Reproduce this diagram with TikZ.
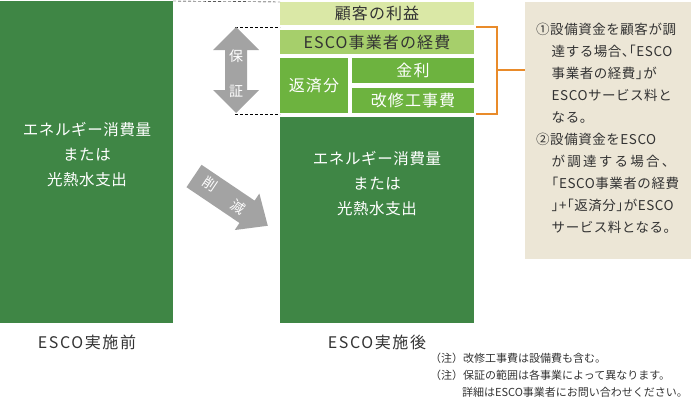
\documentclass[tikz,border=0pt]{standalone}
\usepackage{fontspec}
\setmainfont{Noto Sans CJK JP}
\newfontfamily\spaced[LetterSpace=7]{Noto Sans CJK JP}
\newfontfamily\widespaced[LetterSpace=10]{Noto Sans CJK JP}
\newfontfamily\notefont[LetterSpace=4,RawFeature=+halt]{Noto Sans CJK JP}
\usetikzlibrary{positioning}
\definecolor{moerkgroen}{HTML}{3F8645}
\definecolor{lysgroen}{HTML}{DAE8A6}
\definecolor{mellemgroen}{HTML}{A6CF6B}
\definecolor{klargroen}{HTML}{6DB33F}
\definecolor{pilgraa}{HTML}{A3A3A3}
\definecolor{klammefarve}{HTML}{E98B2A}
\definecolor{beige}{HTML}{ECE6D6}
\definecolor{moerktekst}{HTML}{333333}
\tikzset{
    %Define style for the big bars
    bar/.style={
           rectangle,
           fill=moerkgroen,
           inner sep=0pt,
           outer sep=0pt,
           anchor=north west},
    %Define style for the boxes on top
    felt/.style={
           rectangle,
           fill=klargroen,
           text=white,
           inner sep=0pt,
           outer sep=0pt,
           anchor=north west,
           font=\spaced\fontsize{16}{18}\selectfont},
    %Define style for texts
    bartekst/.style={
           text=white,
           align=center,
           font=\notefont\fontsize{15.5}{25}\selectfont},
    hvid/.style={
           text=white,
           font=\fontsize{14}{16}\selectfont},
    etiket/.style={
           text=moerktekst,
           font=\widespaced\fontsize{16}{18}\selectfont},
    % Define line styles
    stiplet/.style={
           densely dashed,
           thin,
           black},
    klamme/.style={
           klammefarve,
           line width=2.6pt}
}
\begin{document}
\begin{tikzpicture}[x=1pt, y=-1pt]
         \useasboundingbox (0,0) rectangle (696,407);
         %bars
         \node[bar, minimum width=173pt, minimum height=322pt] (before) at (0,1) {};
         \node[bar, minimum width=194pt, minimum height=206pt] (after) at (280,117) {};
         \node[bartekst] (beforetxt) at (87,155) {エネルギー消費量\\または\\光熱水支出};
         \node[bartekst] (aftertxt) at (377,184) {エネルギー消費量\\または\\光熱水支出};
         %boxes
         \node[felt, fill=lysgroen, text=moerktekst, minimum width=194pt, minimum height=23pt]
         (benefit) at (280,2) {顧客の利益};
         \node[felt, fill=mellemgroen, text=moerktekst, minimum width=194pt, minimum height=24pt,
         below=5pt of benefit.south west, anchor=north west] (cost) {ESCO事業者の経費};
         \node[felt, minimum width=68pt, minimum height=55pt,
         below=4pt of cost.south west, anchor=north west] (repay) {返済分};
         \node[felt, minimum width=122pt, minimum height=25pt,
         right=4pt of repay.north east, anchor=north west] (interest) {金利};
         \node[felt, minimum width=122pt, minimum height=25pt,
         below=5pt of interest.south west, anchor=north west] (works) {改修工事費};
         %guide lines
         \coordinate (gtop) at (235,27);
         \coordinate (gbot) at (235,114);
         \draw[stiplet] (before.north east) -- (benefit.north west);
         \draw[stiplet] (gtop) -- (gtop -| cost.west);
         \draw[stiplet] (gbot) -- (gbot -| cost.west);
         %guarantee arrow
         \fill[pilgraa] (236,27) -- (259,50) -- (247,50) -- (247,90) -- (259,90) -- (236,113)
                        -- (213,90) -- (225,90) -- (225,50) -- (213,50) -- cycle;
         \node[hvid] (gua1) at (236,56) {保};
         \node[hvid] (gua2) at (236,91) {証};
         %reduction arrow
         \begin{scope}[shift={(194,176)}, rotate=-34]
         \fill[pilgraa] (0,-13.5) -- (64,-13.5) -- (64,-22) -- (89,0) -- (64,22) -- (64,13.5)
                        -- (0,13.5) -- cycle;
         \node[hvid, rotate=-34] (red1) at (18,-2) {削};
         \node[hvid, rotate=-34] (red2) at (54,1) {減};
         \end{scope}
         %note box
         \node[rectangle, fill=beige, inner sep=0pt, outer sep=0pt, anchor=north west,
         minimum width=166pt, minimum height=257pt] (note) at (525,2) {};
         \node[anchor=north west, inner sep=0pt, align=left, text=moerktekst,
         font=\notefont\fontsize{13.5}{22}\selectfont] (notetxt) at (536,23)
         {①設備資金を顧客が調\\
          \hspace*{1.15em}達する場合、「ESCO\\
          \hspace*{1.15em}事業者の経費」が\\
          \hspace*{1.15em}ESCOサービス料と\\
          \hspace*{1.15em}なる。\\
          ②設備資金をESCO\\
          \hspace*{1.15em}が\,調\,達\,す\,る\,場\,合\,、\\
          \hspace*{1.15em}「ESCO事業者の経費\\
          \hspace*{1.15em}」+「返済分」がESCO\\
          \hspace*{1.15em}サービス料となる。};
         %bracket
         \coordinate (bt) at (476,27);
         \coordinate (bb) at (476,114);
         \coordinate (bm) at (497,70);
         \draw[klamme] (bt) -- (bt -| bm) -- (bb -| bm) -- (bb);
         \draw[klamme] (bm) -- (bm -| note.west);
         %labels
         \node[etiket] (lbefore) at (87,342) {ESCO実施前};
         \node[etiket] (lafter) at (377,342) {ESCO実施後};
         \node[anchor=north west, inner sep=0pt, align=left, text=moerktekst,
         font=\fontsize{11}{17}\selectfont] (notes) at (430,353)
         {（注）改修工事費は設備費も含む。\\
          （注）保証の範囲は各事業によって異なります。\\
          \hspace*{2.9em}詳細はESCO事業者にお問い合わせください。};
\end{tikzpicture}
\end{document}
